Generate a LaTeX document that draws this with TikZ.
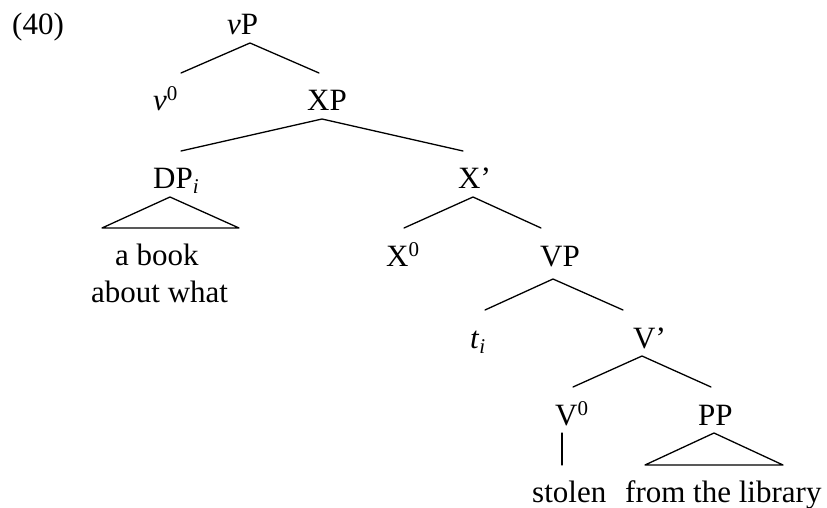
\documentclass[tikz,border=0pt]{standalone}
\usepackage{fontspec}
\setmainfont{Liberation Serif}
\usetikzlibrary{calc}
\tikzset{
  lab/.style={anchor=base west, inner sep=0pt, font=\fontsize{31}{37}\selectfont},
  branch/.style={line width=1.3pt, line cap=round, line join=round}
}
\newcommand{\sps}[1]{\raisebox{10pt}{\fontsize{21}{21}\selectfont #1}}
\newcommand{\sbs}[1]{\raisebox{-5pt}{\fontsize{21}{21}\selectfont\itshape #1}}
\begin{document}
\begin{tikzpicture}[x=1pt, y=-1pt]
\useasboundingbox (0,0) rectangle (827,508);
% labels
\node[lab] (ex) at (12,35) {(40)};
\node[lab] (vP) at (227,35) {\textit{v}P};
\node[lab] (v0) at (153,111) {\textit{v}\sps{0}};
\node[lab] (XP) at (307,111) {XP};
\node[lab] (DP) at (153,188) {DP\sbs{i}};
\node[lab] (Xbar) at (458,188) {X’};
\node[lab] (abook) at (115,265) {a book};
\node[lab] (about) at (91,302) {about what};
\node[lab] (X0) at (386,266) {X\sps{0}};
\node[lab] (VP) at (540,266) {VP};
\node[lab] (ti) at (470,348) {\textit{t}\sbs{i}};
\node[lab] (Vbar) at (633,348) {V’};
\node[lab] (V0) at (555,425) {V\sps{0}};
\node[lab] (PP) at (698,425) {PP};
\node[lab] (stolen) at (532,502) {stolen};
\node[lab] (library) at (625,502) {from the library};
% branches
\draw[branch] ($(v0.base west)+(28,-38)$) -- ($(vP.base west)+(23,8)$) -- ($(XP.base west)+(12,-38)$);
\draw[branch] ($(DP.base west)+(28,-37)$) -- ($(XP.base west)+(15,8)$) -- ($(Xbar.base west)+(5,-37)$);
\draw[branch] ($(X0.base west)+(18,-38)$) -- ($(Xbar.base west)+(15,9)$) -- ($(VP.base west)+(1,-38)$);
\draw[branch] ($(ti.base west)+(15,-38)$) -- ($(VP.base west)+(13,13)$) -- ($(Vbar.base west)+(-10,-38)$);
\draw[branch] ($(V0.base west)+(18,-38)$) -- ($(Vbar.base west)+(9,8)$) -- ($(PP.base west)+(13,-38)$);
\draw[branch] ($(V0.base west)+(7,8)$) -- ($(stolen.base west)+(30,-37)$);
% triangles
\draw[branch] ($(DP.base west)+(17,9)$) -- ($(DP.base west)+(-51,40)$) -- ($(DP.base west)+(86,40)$) -- cycle;
\draw[branch] ($(PP.base west)+(16,8)$) -- ($(PP.base west)+(-53,40)$) -- ($(PP.base west)+(85,40)$) -- cycle;
\end{tikzpicture}
\end{document}
